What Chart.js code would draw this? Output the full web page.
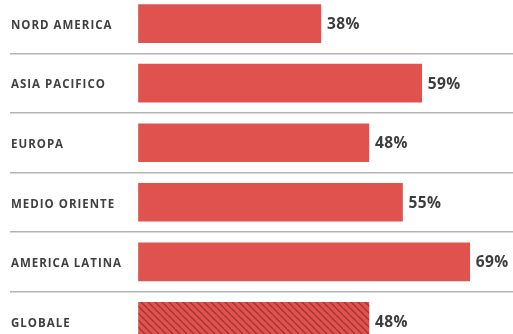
<!DOCTYPE html>
<html>
<head>
<meta charset="utf-8">
<script src="https://cdn.jsdelivr.net/npm/chart.js@4"></script>
<style>
  html, body { margin: 0; padding: 0; background: #ffffff; overflow: hidden; width: 513px; height: 334px; }
  #wrap { position: absolute; left: 0; top: -14px; width: 513px; height: 373px; }
</style>
</head>
<body>
<div id="wrap"><canvas id="c"></canvas></div>
<script>
const categories = ['NORD AMERICA', 'ASIA PACIFICO', 'EUROPA', 'MEDIO ORIENTE', 'AMERICA LATINA', 'GLOBALE'];
const values = [38, 59, 48, 55, 69, 48];
const valueLabels = ['38%', '59%', '48%', '55%', '69%', '48%'];
const hatched = [false, false, false, false, false, true];

const RED = '#df524e';

function makePattern() {
  const s = 7;
  const cv = document.createElement('canvas');
  cv.width = s; cv.height = s;
  const g = cv.getContext('2d');
  g.fillStyle = RED;
  g.fillRect(0, 0, s, s);
  g.strokeStyle = '#a13431';
  g.lineWidth = 1.3;
  for (const k of [-s, 0, s]) {
    g.beginPath();
    g.moveTo(k, 0);
    g.lineTo(k + s, s);
    g.stroke();
  }
  return g.createPattern(cv, 'repeat');
}
const pattern = makePattern();
const colors = hatched.map(h => h ? pattern : RED);

const spacingPlugin = {
  id: 'spacing',
  beforeDraw(chart) { chart.ctx.letterSpacing = '1px'; },
  afterDraw(chart) { chart.ctx.letterSpacing = '0px'; }
};

const valueLabelPlugin = {
  id: 'valueLabels',
  afterDatasetsDraw(chart) {
    const ctx = chart.ctx;
    const meta = chart.getDatasetMeta(0);
    ctx.save();
    ctx.letterSpacing = '0.4px';
    ctx.font = 'bold 15.5px "Open Sans", sans-serif';
    ctx.fillStyle = '#3d3d3d';
    ctx.textAlign = 'left';
    ctx.textBaseline = 'middle';
    meta.data.forEach((bar, i) => {
      ctx.fillText(valueLabels[i], bar.x + 6, bar.y + 1);
    });
    ctx.restore();
  }
};

new Chart(document.getElementById('c'), {
  type: 'bar',
  data: {
    labels: categories,
    datasets: [{
      data: values,
      backgroundColor: colors,
      borderWidth: 0,
      barThickness: 38
    }]
  },
  options: {
    indexAxis: 'y',
    responsive: true,
    maintainAspectRatio: false,
    animation: false,
    layout: { padding: { left: 8, right: 0, top: 0, bottom: 0 } },
    plugins: { legend: { display: false }, tooltip: { enabled: false } },
    scales: {
      x: {
        display: false,
        min: -26.77,
        max: 78.02
      },
      y: {
        position: 'left',
        border: { display: false },
        grid: {
          offset: true,
          drawTicks: false,
          color: '#b4b4b4',
          lineWidth: 1.5
        },
        ticks: {
          mirror: true,
          padding: 1,
          labelOffset: 2,
          color: '#404040',
          font: { family: '"Open Sans", sans-serif', size: 11.5, weight: 'bold' }
        }
      }
    }
  },
  plugins: [spacingPlugin, valueLabelPlugin]
});
</script>
</body>
</html>
